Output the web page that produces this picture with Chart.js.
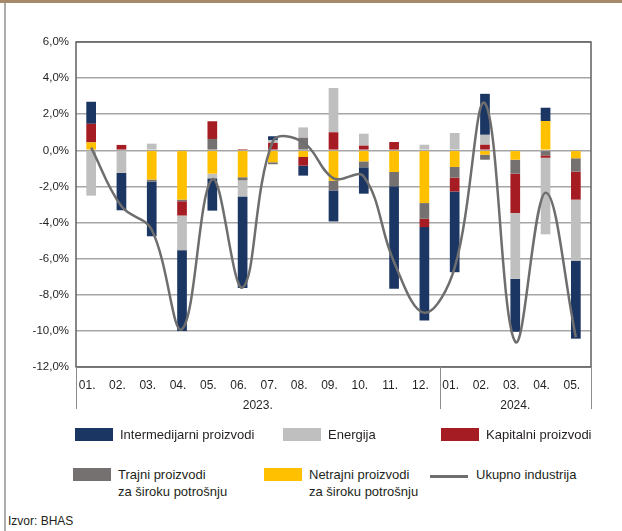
<!DOCTYPE html>
<html>
<head>
<meta charset="utf-8">
<script src="https://cdn.jsdelivr.net/npm/chart.js@4.4.0/dist/chart.umd.min.js"></script>
<style>
  html, body { margin: 0; padding: 0; background: #fff; }
  body { width: 622px; height: 531px; position: relative; overflow: hidden;
         font-family: "Liberation Sans", Arial, sans-serif; color: #231f20; }
  #topbar { position: absolute; left: 0; top: 0; width: 622px; height: 3px; background: #a58b6c; }
  #leftbar { position: absolute; left: 4px; top: 3px; width: 2px; height: 528px; background: #adadad; }
  #wrap { position: absolute; left: 0; top: 0; width: 622px; height: 431px; }
  .lg { position: absolute; font-size: 13px; line-height: 17px; white-space: nowrap; }
  .sw { position: absolute; width: 38px; height: 13px; }
  .ln { position: absolute; width: 38px; height: 3px; background: #6e6e6e; }
  #src { position: absolute; left: 8px; top: 514px; font-size: 12px; }
</style>
</head>
<body>
<div id="topbar"></div>
<div id="leftbar"></div>
<div id="wrap"><canvas id="chart"></canvas></div>

<div class="sw" style="left:75px;top:428px;background:#1c3664"></div>
<div class="lg" style="left:120px;top:426px">Intermedijarni proizvodi</div>
<div class="sw" style="left:283px;top:428px;background:#bfbfbf"></div>
<div class="lg" style="left:328px;top:426px">Energija</div>
<div class="sw" style="left:441px;top:428px;background:#a51c22"></div>
<div class="lg" style="left:486px;top:426px">Kapitalni proizvodi</div>

<div class="sw" style="left:73px;top:468px;background:#767171"></div>
<div class="lg" style="left:118px;top:466px">Trajni proizvodi<br>za široku potrošnju</div>
<div class="sw" style="left:264px;top:468px;background:#ffc000"></div>
<div class="lg" style="left:309px;top:466px">Netrajni proizvodi<br>za široku potrošnju</div>
<div class="ln" style="left:430px;top:475px"></div>
<div class="lg" style="left:476px;top:466px">Ukupno industrija</div>

<div id="src">Izvor: BHAS</div>

<script>
// months and the year groups under them
const months = ['01.', '02.', '03.', '04.', '05.', '06.', '07.', '08.', '09.', '10.', '11.', '12.',
                '01.', '02.', '03.', '04.', '05.'];
const yearLabels = ['2023.', '2024.'];
const yearLengths = [12, 5];

// contributions, percentage points
const intermedijarni = [1.22, -2.07, -3.03, -4.48, -1.79, -5.07, 0.22, -0.55, -1.72, -1.46, -5.68, -5.17,
                        -4.47, 2.27, -2.93, 0.74, -4.32];
const energija = [-2.51, -1.25, 0.37, -1.92, -0.26, -0.89, 0.15, 0.57, 2.45, 0.66, 0, 0.31,
                  0.96, 0.55, -3.65, -4.24, -3.38];
const kapitalni = [1.03, 0.30, 0, -0.79, 0.98, 0.07, 0.41, -0.48, 1.00, 0.26, 0.46, -0.46,
                   -0.77, 0.31, -2.18, -0.13, -1.55];
const trajni = [0, 0, -0.11, -0.09, 0.63, -0.17, -0.11, 0.70, -0.54, -0.33, -0.79, -0.87,
                -0.59, -0.28, -0.77, -0.28, -0.74];
const netrajni = [0.44, 0, -1.62, -2.73, -1.29, -1.49, -0.66, -0.37, -1.68, -0.61, -1.20, -2.92,
                  -0.92, -0.24, -0.52, 1.62, -0.44];
const ukupno = [0.15, -3.1, -4.4, -9.9, -1.6, -7.6, 0.5, 0.45, -1.55, -1.45, -6.2, -9.0,
                -6.5, 2.6, -10.6, -2.35, -10.35];

const yTicks = [-12, -10, -8, -6, -4, -2, 0, 2, 4, 6];

const FONT = '"Liberation Sans", Arial, sans-serif';

const bar = (label, data, color) => ({
  type: 'bar', label, data, backgroundColor: color, borderWidth: 0,
  stack: 'parts', order: 1, categoryPercentage: 1, barPercentage: 0.32
});

// frame around plot, group separators and year labels
const framePlugin = {
  id: 'frame',
  afterDraw(chart) {
    const { ctx, chartArea: a } = chart;
    const x = chart.scales.x;
    ctx.save();
    ctx.strokeStyle = '#5f5f5f';
    ctx.lineWidth = 1.5;
    ctx.strokeRect(a.left, a.top, a.right - a.left, a.bottom - a.top);

    ctx.strokeStyle = '#8c8c8c';
    ctx.lineWidth = 1;
    ctx.fillStyle = '#231f20';
    ctx.font = '12px ' + FONT;
    ctx.textAlign = 'center';
    ctx.textBaseline = 'middle';
    let start = 0;
    const edge = (i) => {
      if (i <= 0) return a.left;
      if (i >= months.length) return a.right;
      return (x.getPixelForValue(i - 1) + x.getPixelForValue(i)) / 2;
    };
    yearLabels.forEach((lab, k) => {
      const end = start + yearLengths[k];
      const x0 = edge(start), x1 = edge(end);
      [x0, x1].forEach(px => {
        ctx.beginPath();
        ctx.moveTo(Math.round(px) + 0.5, a.bottom);
        ctx.lineTo(Math.round(px) + 0.5, a.bottom + 42);
        ctx.stroke();
      });
      ctx.fillText(lab, (x0 + x1) / 2, a.bottom + 39);
      start = end;
    });
    ctx.restore();
  }
};

new Chart(document.getElementById('chart'), {
  data: {
    labels: months,
    datasets: [
      { type: 'line', label: 'Ukupno industrija', data: ukupno, borderColor: '#6e6e6e',
        borderWidth: 2.5, pointRadius: 0, tension: 0.38, stack: 'total', order: 0, fill: false },
      bar('Netrajni proizvodi za široku potrošnju', netrajni, '#ffc000'),
      bar('Trajni proizvodi za široku potrošnju', trajni, '#767171'),
      bar('Kapitalni proizvodi', kapitalni, '#a51c22'),
      bar('Energija', energija, '#bfbfbf'),
      bar('Intermedijarni proizvodi', intermedijarni, '#1c3664')
    ]
  },
  options: {
    responsive: true,
    maintainAspectRatio: false,
    animation: false,
    layout: { padding: { left: 0, top: 42, right: 31, bottom: 0 } },
    plugins: { legend: { display: false }, tooltip: { enabled: false } },
    scales: {
      x: {
        stacked: true,
        grid: { display: false, drawTicks: false },
        border: { display: false },
        ticks: { color: '#231f20', font: { size: 12, family: FONT },
                 padding: 11, labelOffset: -4, maxRotation: 0, autoSkip: false },
        afterFit(scale) { scale.height = 64; }
      },
      y: {
        stacked: true,
        min: -12, max: 6,
        afterBuildTicks(scale) { scale.ticks = yTicks.map(v => ({ value: v })); },
        grid: { color: '#a6a6a6', lineWidth: 1.5, drawTicks: false },
        border: { display: false },
        ticks: {
          color: '#231f20', padding: 7,
          font: { size: 11.5, family: FONT },
          callback: v => v.toFixed(1).replace('.', ',') + '%'
        },
        afterFit(scale) { scale.width = 76; }
      }
    }
  },
  plugins: [framePlugin]
});
</script>
</body>
</html>
